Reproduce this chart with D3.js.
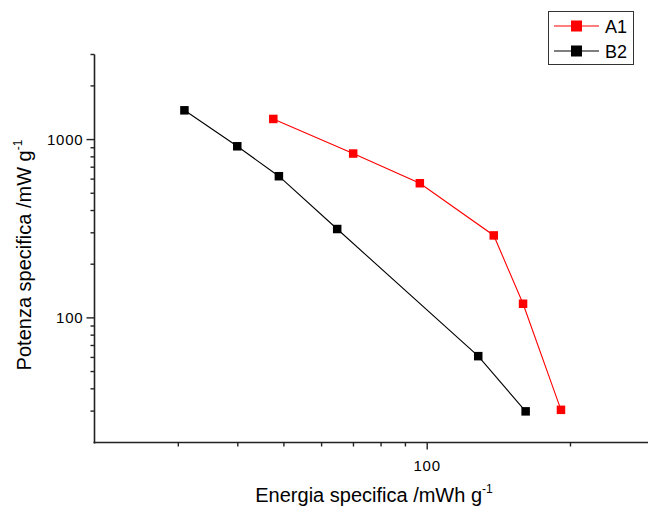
<!DOCTYPE html>
<html>
<head>
<meta charset="utf-8">
<script src="https://cdn.jsdelivr.net/npm/d3@7"></script>
<style>
  html, body { margin: 0; padding: 0; background: #fff; }
  svg { display: block; font-family: "Liberation Sans", Arial, sans-serif; }
</style>
</head>
<body>
<svg id="chart" width="648" height="507"></svg>
<script>
// Specific energy (mWh/g) vs specific power (mW/g), log-log
const seriesNames = ["A1", "B2"];
const seriesColors = ["#ff0000", "#000000"];
const energyA1 = [47.5, 69.9, 96.5, 138, 159, 191];
const powerA1  = [1305, 835, 569, 290, 120, 30.5];
const energyB2 = [30.9, 39.9, 48.8, 64.7, 128, 161];
const powerB2  = [1459, 917, 623, 315, 61, 29.9];
const xDomain = [20, 300];
const yDomain = [20, 3000];
const xLabeledTicks = [100];
const yLabeledTicks = [100, 1000];

const svg = d3.select("#chart");

const x = d3.scaleLog().domain(xDomain).range([94.5, 654.3]);
const y = d3.scaleLog().domain(yDomain).range([442.5, 54.5]);

// all ticks at 1..9 x 10^k inside the domain
function logTicks(dom) {
  const out = [];
  for (let p = 1; p <= 4; p++) {
    for (let m = 1; m <= 9; m++) {
      const v = m * Math.pow(10, p);
      if (v >= dom[0] - 1e-9 && v <= dom[1] + 1e-9) out.push(v);
    }
  }
  return out;
}
const isMajor = v => Math.abs(Math.log10(v) - Math.round(Math.log10(v))) < 1e-9;

const chartW = 648;

// X axis
const xAxis = svg.append("g").attr("transform", `translate(0,${y(yDomain[0])})`);
xAxis.append("line")
  .attr("x1", x(xDomain[0]) - 1).attr("x2", chartW)
  .attr("stroke", "#222").attr("stroke-width", 1.6);
xAxis.selectAll("line.tick").data(logTicks(xDomain).filter(v => v > xDomain[0] && x(v) < chartW))
  .join("line").attr("class", "tick")
  .attr("x1", d => x(d)).attr("x2", d => x(d))
  .attr("y1", 0).attr("y2", d => isMajor(d) ? 7 : 4)
  .attr("stroke", "#222").attr("stroke-width", 1.4);
xAxis.selectAll("text").data(xLabeledTicks).join("text")
  .attr("x", d => x(d)).attr("y", 28)
  .attr("text-anchor", "middle").attr("font-size", 15)
  .attr("letter-spacing", 0.8).attr("fill", "#000")
  .text(d => d);

// Y axis
const yAxis = svg.append("g").attr("transform", `translate(${x(xDomain[0])},0)`);
yAxis.append("line")
  .attr("y1", y(yDomain[1])).attr("y2", y(yDomain[0]) + 1)
  .attr("stroke", "#222").attr("stroke-width", 1.6);
yAxis.selectAll("line.tick").data(logTicks(yDomain).filter(v => v > yDomain[0]))
  .join("line").attr("class", "tick")
  .attr("y1", d => y(d)).attr("y2", d => y(d))
  .attr("x1", 0).attr("x2", d => isMajor(d) ? -8 : -4)
  .attr("stroke", "#222").attr("stroke-width", 1.4);
yAxis.selectAll("text").data(yLabeledTicks).join("text")
  .attr("x", -11).attr("y", d => y(d) + 5)
  .attr("text-anchor", "end").attr("font-size", 15)
  .attr("letter-spacing", 0.8).attr("fill", "#000")
  .text(d => d);

// Axis titles
const xt = svg.append("text")
  .attr("x", 374).attr("y", 502)
  .attr("text-anchor", "middle").attr("font-size", 20).attr("fill", "#000");
xt.append("tspan").text("Energia specifica /mWh g");
xt.append("tspan").attr("dy", -9).attr("font-size", 12).text("-1");

const yt = svg.append("text")
  .attr("transform", "translate(31,255) rotate(-90)")
  .attr("text-anchor", "middle").attr("font-size", 20).attr("fill", "#000");
yt.append("tspan").text("Potenza specifica /mW g");
yt.append("tspan").attr("dy", -9).attr("font-size", 12).text("-1");

// Series
const series = [
  { name: seriesNames[0], color: seriesColors[0], xs: energyA1, ys: powerA1 },
  { name: seriesNames[1], color: seriesColors[1], xs: energyB2, ys: powerB2 }
];
const line = d3.line().x(d => x(d[0])).y(d => y(d[1]));
const msize = 8.5;

series.forEach(s => {
  const pts = s.xs.map((v, i) => [v, s.ys[i]]);
  svg.append("path").datum(pts)
    .attr("d", line).attr("fill", "none")
    .attr("stroke", s.color).attr("stroke-width", 1.1);
  svg.append("g").selectAll("rect").data(pts).join("rect")
    .attr("x", d => x(d[0]) - msize / 2).attr("y", d => y(d[1]) - msize / 2)
    .attr("width", msize).attr("height", msize)
    .attr("fill", s.color);
});

// Legend
const lg = svg.append("g");
lg.append("rect")
  .attr("x", 548.5).attr("y", 11.5).attr("width", 85).attr("height", 53)
  .attr("fill", "#fff").attr("stroke", "#333").attr("stroke-width", 1);
series.forEach((s, i) => {
  const cy = 26 + i * 25;
  lg.append("line").attr("x1", 554).attr("x2", 599).attr("y1", cy).attr("y2", cy)
    .attr("stroke", s.color).attr("stroke-width", 1.1);
  lg.append("rect").attr("x", 576.5 - 5.5).attr("y", cy - 5.5).attr("width", 11).attr("height", 11)
    .attr("fill", s.color);
  lg.append("text").attr("x", 605).attr("y", cy + 6.5)
    .attr("font-size", 18).attr("fill", "#000").text(s.name);
});
</script>
</body>
</html>
